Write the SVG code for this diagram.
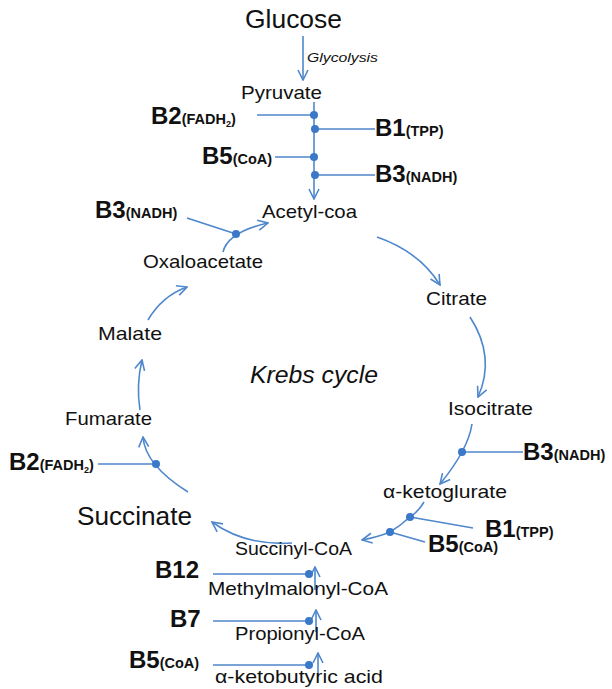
<svg xmlns="http://www.w3.org/2000/svg" width="612" height="689" viewBox="0 0 612 689">
<style>
.t{font-family:"Liberation Sans",Arial,sans-serif;fill:#111;font-size:18.5px}
.big{font-size:26px}
.it{font-style:italic}
.v{font-family:"Liberation Sans",Arial,sans-serif;font-weight:bold;fill:#111;font-size:24px}
.s{font-size:14.5px}
.sub{font-size:9px}
.c{fill:none;stroke:#4f87cc;stroke-width:1.6}
.d{fill:#3a78c8}
</style>
<defs>
<marker id="arr" viewBox="0 0 12 12" refX="11" refY="6" markerWidth="12" markerHeight="12" markerUnits="userSpaceOnUse" orient="auto">
<path d="M1,1 L11,6 L1,11" fill="none" stroke="#4f87cc" stroke-width="1.6"/>
</marker>
</defs>
<rect width="612" height="689" fill="#fff"/>
<g id="connectors">
<path class="c" d="M303,36 L303,80" marker-end="url(#arr)"/>
<path class="c" d="M314,102 L314,199" marker-end="url(#arr)"/>
<path class="c" d="M257,115 L314,115 M314,129 L375,129 M275,157 L314,157 M314,175 L375,175"/>
<path class="c" d="M377,237 Q420,252 440,285" marker-end="url(#arr)"/>
<path class="c" d="M470,317 Q496,357 478,397" marker-end="url(#arr)"/>
<path class="c" d="M472,424 Q468,450 440,484" marker-end="url(#arr)"/>
<path class="c" d="M462,452 L523,452"/>
<path class="c" d="M424,502 Q418,512 410,517 Q400,526 390,532 Q378,537 362,540" marker-end="url(#arr)"/>
<path class="c" d="M410,517 L473,528 M390,532 L425,542"/>
<path class="c" d="M292,543 Q245,546 212,522" marker-end="url(#arr)"/>
<path class="c" d="M188,492 Q145,465 143,437" marker-end="url(#arr)"/>
<path class="c" d="M98,464 L156,464"/>
<path class="c" d="M140,410 Q136,385 142,360" marker-end="url(#arr)"/>
<path class="c" d="M148,320 Q162,296 187,287" marker-end="url(#arr)"/>
<path class="c" d="M223,252 Q228,232 268,223" marker-end="url(#arr)"/>
<path class="c" d="M187,218 L236,234"/>
<path class="c" d="M213,574 L309,574 M213,621 L309,621 M213,665 L309,665"/>
<path class="c" d="M315,590 L315,567" marker-end="url(#arr)"/>
<path class="c" d="M316,632 L316,610" marker-end="url(#arr)"/>
<path class="c" d="M318,675 L318,653" marker-end="url(#arr)"/>
<circle class="d" cx="314" cy="115" r="4"/>
<circle class="d" cx="315" cy="129" r="4"/>
<circle class="d" cx="314" cy="157" r="4"/>
<circle class="d" cx="315" cy="175" r="4"/>
<circle class="d" cx="236" cy="234" r="4"/>
<circle class="d" cx="462" cy="452" r="4"/>
<circle class="d" cx="410" cy="517" r="4"/>
<circle class="d" cx="390" cy="532" r="4"/>
<circle class="d" cx="156" cy="464" r="4"/>
<circle class="d" cx="309" cy="574" r="4"/>
<circle class="d" cx="309" cy="621" r="4"/>
<circle class="d" cx="309" cy="665" r="4"/>
</g>
<g id="glucose"><text class="t big" x="245" y="28" textLength="97" lengthAdjust="spacingAndGlyphs">Glucose</text></g>
<g id="glycolysis"><text class="t it" x="307" y="62" style="font-size:12.5px" textLength="71" lengthAdjust="spacingAndGlyphs">Glycolysis</text></g>
<g id="pyruvate"><text class="t" x="241" y="99" textLength="81" lengthAdjust="spacingAndGlyphs">Pyruvate</text></g>
<g id="acetylcoa"><text class="t" x="262" y="218" textLength="95" lengthAdjust="spacingAndGlyphs">Acetyl-coa</text></g>
<g id="citrate"><text class="t" x="426" y="305" textLength="61" lengthAdjust="spacingAndGlyphs">Citrate</text></g>
<g id="isocitrate"><text class="t" x="448" y="415" textLength="85" lengthAdjust="spacingAndGlyphs">Isocitrate</text></g>
<g id="ketoglurate"><text class="t" x="383" y="498" textLength="124" lengthAdjust="spacingAndGlyphs">α-ketoglurate</text></g>
<g id="succinylcoa"><text class="t" x="235" y="555" textLength="117" lengthAdjust="spacingAndGlyphs">Succinyl-CoA</text></g>
<g id="succinate"><text class="t" x="77" y="525" style="font-size:25px" textLength="115" lengthAdjust="spacingAndGlyphs">Succinate</text></g>
<g id="fumarate"><text class="t" x="65" y="425" textLength="87" lengthAdjust="spacingAndGlyphs">Fumarate</text></g>
<g id="malate"><text class="t" x="98" y="340" textLength="64" lengthAdjust="spacingAndGlyphs">Malate</text></g>
<g id="oxaloacetate"><text class="t" x="143" y="268" textLength="120" lengthAdjust="spacingAndGlyphs">Oxaloacetate</text></g>
<g id="krebs"><text class="t it" x="250" y="383" style="font-size:23px" textLength="128" lengthAdjust="spacingAndGlyphs">Krebs cycle</text></g>
<g id="methylmalonylcoa"><text class="t" x="208" y="595" textLength="180" lengthAdjust="spacingAndGlyphs">Methylmalonyl-CoA</text></g>
<g id="propionylcoa"><text class="t" x="235" y="640" textLength="130" lengthAdjust="spacingAndGlyphs">Propionyl-CoA</text></g>
<g id="ketobutyric"><text class="t" x="215" y="683" textLength="168" lengthAdjust="spacingAndGlyphs">α-ketobutyric acid</text></g>
<g id="b2-top"><text class="v" x="151" y="124">B2<tspan class="s">(FADH</tspan><tspan class="sub" dy="3">2</tspan><tspan class="s" dy="-3">)</tspan></text></g>
<g id="b1-top"><text class="v" x="375" y="136">B1<tspan class="s">(TPP)</tspan></text></g>
<g id="b5-top"><text class="v" x="202" y="164">B5<tspan class="s">(CoA)</tspan></text></g>
<g id="b3-top"><text class="v" x="375" y="182">B3<tspan class="s">(NADH)</tspan></text></g>
<g id="b3-left"><text class="v" x="95" y="218">B3<tspan class="s">(NADH)</tspan></text></g>
<g id="b3-right"><text class="v" x="523" y="460">B3<tspan class="s">(NADH)</tspan></text></g>
<g id="b1-right"><text class="v" x="485" y="537">B1<tspan class="s">(TPP)</tspan></text></g>
<g id="b5-right"><text class="v" x="428" y="552">B5<tspan class="s">(CoA)</tspan></text></g>
<g id="b2-left"><text class="v" x="9" y="470">B2<tspan class="s">(FADH</tspan><tspan class="sub" dy="3">2</tspan><tspan class="s" dy="-3">)</tspan></text></g>
<g id="b12"><text class="v" x="155" y="578">B12</text></g>
<g id="b7"><text class="v" x="170" y="627">B7</text></g>
<g id="b5-bottom"><text class="v" x="129" y="668">B5<tspan class="s">(CoA)</tspan></text></g>
</svg>
